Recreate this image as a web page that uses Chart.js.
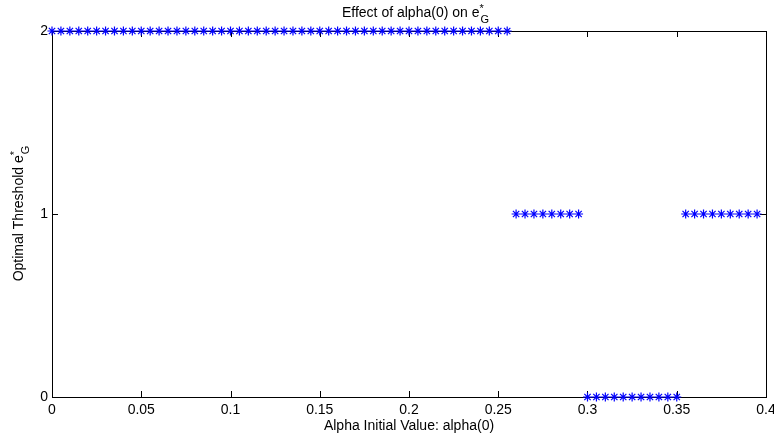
<!DOCTYPE html>
<html>
<head>
<meta charset="utf-8">
<script src="https://cdn.jsdelivr.net/npm/chart.js@4/dist/chart.umd.min.js"></script>
<style>
html,body{margin:0;padding:0;background:#fff;}
#wrap{width:774px;height:440px;}
</style>
</head>
<body>
<div id="wrap"><canvas id="c" width="774" height="440"></canvas></div>
<script>
const alphaValues = [
  0, 0.005, 0.01, 0.015, 0.02, 0.025, 0.03, 0.035, 0.04, 0.045,
  0.05, 0.055, 0.06, 0.065, 0.07, 0.075, 0.08, 0.085, 0.09, 0.095,
  0.1, 0.105, 0.11, 0.115, 0.12, 0.125, 0.13, 0.135, 0.14, 0.145,
  0.15, 0.155, 0.16, 0.165, 0.17, 0.175, 0.18, 0.185, 0.19, 0.195,
  0.2, 0.205, 0.21, 0.215, 0.22, 0.225, 0.23, 0.235, 0.24, 0.245,
  0.25, 0.255, 0.26, 0.265, 0.27, 0.275, 0.28, 0.285, 0.29, 0.295,
  0.3, 0.305, 0.31, 0.315, 0.32, 0.325, 0.33, 0.335, 0.34, 0.345,
  0.35, 0.355, 0.36, 0.365, 0.37, 0.375, 0.38, 0.385, 0.39, 0.395
];
const optimalThreshold = [
  2, 2, 2, 2, 2, 2, 2, 2, 2, 2,
  2, 2, 2, 2, 2, 2, 2, 2, 2, 2,
  2, 2, 2, 2, 2, 2, 2, 2, 2, 2,
  2, 2, 2, 2, 2, 2, 2, 2, 2, 2,
  2, 2, 2, 2, 2, 2, 2, 2, 2, 2,
  2, 2, 1, 1, 1, 1, 1, 1, 1, 1,
  0, 0, 0, 0, 0, 0, 0, 0, 0, 0,
  0, 1, 1, 1, 1, 1, 1, 1, 1, 1
];
const xTickValues = [0, 0.05, 0.1, 0.15, 0.2, 0.25, 0.3, 0.35, 0.4];
const xTickLabels = ['0', '0.05', '0.1', '0.15', '0.2', '0.25', '0.3', '0.35', '0.4'];
const yTickValues = [0, 1, 2];
const yTickLabels = ['0', '1', '2'];
const titleMain = 'Effect of alpha(0) on e';
const yLabelMain = 'Optimal Threshold e';
const labelSup = '*';
const labelSub = 'G';
const xLabelText = 'Alpha Initial Value: alpha(0)';

const FONT = '"Liberation Sans", Arial, Helvetica, sans-serif';

function drawSupSub(ctx, main, x, y, size) {
  // draws centered text "main" + superscript + subscript, baseline at y, centered at x
  ctx.font = size + 'px ' + FONT;
  const wMain = ctx.measureText(main).width;
  ctx.font = Math.round(size * 0.75) + 'px ' + FONT;
  const wSup = ctx.measureText(labelSup).width;
  const wSub = ctx.measureText(labelSub).width;
  const total = wMain + Math.max(wSup, wSub);
  let left = x - total / 2;
  ctx.textAlign = 'left';
  ctx.textBaseline = 'alphabetic';
  ctx.font = size + 'px ' + FONT;
  ctx.fillText(main, left, y);
  ctx.font = Math.round(size * 0.75) + 'px ' + FONT;
  ctx.fillText(labelSup, left + wMain, y - size * 0.35);
  ctx.fillText(labelSub, left + wMain + 1, y + size * 0.4);
}

const axesPlugin = {
  id: 'matlabAxes',
  beforeDatasetsDraw(chart) {
    const ctx = chart.ctx;
    const a = chart.chartArea;
    const xs = chart.scales.x, ys = chart.scales.y;
    ctx.save();
    ctx.strokeStyle = '#000';
    ctx.lineWidth = 1;
    ctx.strokeRect(Math.round(a.left) + 0.5, Math.round(a.top) + 0.5,
                   Math.round(a.right - a.left), Math.round(a.bottom - a.top));
    const tl = 6;
    ctx.beginPath();
    xTickValues.forEach(v => {
      const px = Math.round(xs.getPixelForValue(v)) + 0.5;
      ctx.moveTo(px, a.bottom); ctx.lineTo(px, a.bottom - tl);
      ctx.moveTo(px, a.top); ctx.lineTo(px, a.top + tl);
    });
    yTickValues.forEach(v => {
      const py = Math.round(ys.getPixelForValue(v)) + 0.5;
      ctx.moveTo(a.left, py); ctx.lineTo(a.left + tl, py);
      ctx.moveTo(a.right, py); ctx.lineTo(a.right - tl, py);
    });
    ctx.stroke();
    ctx.fillStyle = '#000';
    ctx.font = '14px ' + FONT;
    ctx.textAlign = 'center';
    ctx.textBaseline = 'middle';
    xTickValues.forEach((v, i) => {
      ctx.fillText(xTickLabels[i], xs.getPixelForValue(v), a.bottom + 13);
    });
    ctx.textAlign = 'right';
    yTickValues.forEach((v, i) => {
      ctx.fillText(yTickLabels[i], a.left - 4, ys.getPixelForValue(v));
    });
    // x label
    ctx.textAlign = 'center';
    ctx.font = '14px ' + FONT;
    ctx.fillText(xLabelText, (a.left + a.right) / 2, a.bottom + 29);
    // title
    drawSupSub(ctx, titleMain, (a.left + a.right) / 2 + 6, 17, 14);
    // y label
    ctx.save();
    ctx.translate(23, (a.top + a.bottom) / 2);
    ctx.rotate(-Math.PI / 2);
    drawSupSub(ctx, yLabelMain, 0, 0, 14);
    ctx.restore();
    ctx.restore();
  }
};

const points = alphaValues.map((x, i) => ({ x: x, y: optimalThreshold[i] }));

new Chart(document.getElementById('c'), {
  type: 'scatter',
  data: {
    datasets: [{
      data: points,
      pointStyle: 'star',
      pointRadius: 4.5,
      pointHoverRadius: 4.5,
      borderColor: '#0000ff',
      backgroundColor: '#0000ff',
      pointBorderWidth: 1.2,
      showLine: false,
      clip: false
    }]
  },
  options: {
    responsive: false,
    animation: false,
    events: [],
    layout: { padding: { left: 52, top: 31, right: 8, bottom: 43 } },
    scales: {
      x: { type: 'linear', min: 0, max: 0.4, display: false },
      y: { type: 'linear', min: 0, max: 2, display: false }
    },
    plugins: { legend: { display: false }, tooltip: { enabled: false }, title: { display: false } }
  },
  plugins: [axesPlugin]
});
</script>
</body>
</html>
